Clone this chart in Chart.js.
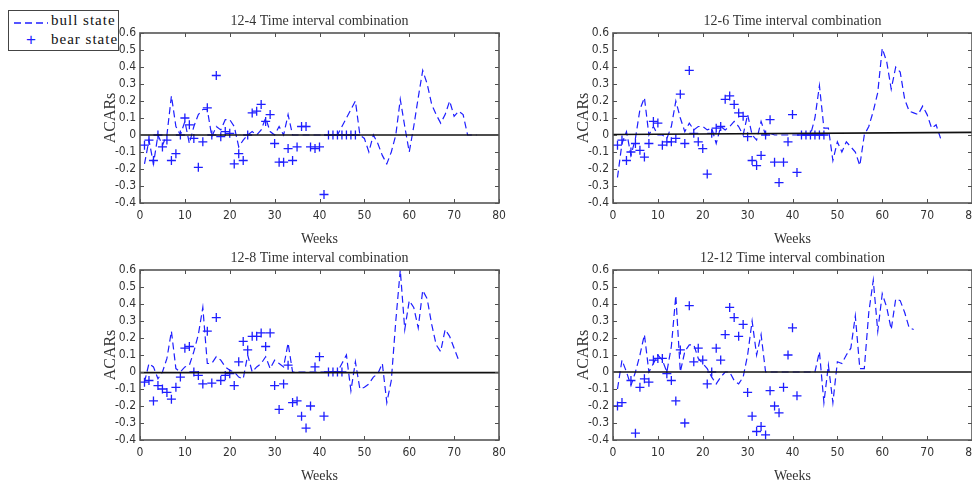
<!DOCTYPE html>
<html>
<head>
<meta charset="utf-8">
<script src="https://cdn.jsdelivr.net/npm/chart.js@4.4.0/dist/chart.umd.min.js"></script>
<style>
  html, body { margin: 0; padding: 0; background: #fff; overflow: hidden; width: 972px; height: 485px; }
  canvas { position: absolute; }
  #legend { position: absolute; left: 8px; top: 10px; width: 109px; height: 39px; border: 1.5px solid #444;
            background: #fff; z-index: 2; font: 15px 'Liberation Serif', serif; letter-spacing: 1px; color: #111;
            white-space: nowrap; }
  #legend span, #legend svg { position: absolute; }
</style>
</head>
<body>
<div id="legend">
  <svg style="left:5px;top:10px" width="34" height="4"><line x1="0" y1="2" x2="34" y2="2" stroke="rgb(30,30,255)" stroke-width="1.3" stroke-dasharray="7,4"/></svg>
  <span style="left:42px;top:1px">bull state</span>
  <span style="left:17px;top:19px;color:rgb(30,30,255);font:17px 'Liberation Sans',sans-serif">+</span>
  <span style="left:42px;top:20px">bear state</span>
</div>
<canvas id="c1" width="520" height="250" style="left:0;top:0"></canvas>
<canvas id="c2" width="520" height="250" style="left:473px;top:0"></canvas>
<canvas id="c3" width="520" height="250" style="left:0;top:237px"></canvas>
<canvas id="c4" width="520" height="250" style="left:473px;top:237px"></canvas>
<script>
// Data (weeks start at 1)
const trendWeeks = [0, 80];

const bull12_4 = [-0.17,-0.03,-0.17,0.0,-0.06,0.0,0.23,0.05,0.0,0.08,
  -0.05,0.05,0.12,0.15,0.15,-0.01,0.05,0.03,0.09,0.09,
  0.05,-0.07,-0.03,0.0,0.02,0.0,0.03,0.1,0.02,0.0,
  0.05,0.0,0.12,0.0,0.0,0.0,0.0,0.0,0.0,0.0,
  0.0,0.0,0.0,0.0,0.05,0.1,0.15,0.2,0.0,-0.02,
  -0.1,0.0,-0.05,-0.12,-0.17,-0.1,0.0,0.21,0.05,-0.1,
  0.05,0.22,0.38,0.3,0.18,0.12,0.07,0.12,0.2,0.11,
  0.14,0.12,0.0,0.0,0.0];
const bear12_4 = [-0.06,-0.03,-0.15,0.0,-0.07,-0.03,-0.15,-0.11,0.0,0.1,
  0.06,-0.02,-0.19,-0.04,0.16,0.0,0.35,-0.01,0.02,0.01,
  -0.17,-0.11,-0.15,0.0,0.13,0.14,0.18,0.08,0.12,-0.05,
  -0.16,-0.16,-0.08,-0.15,-0.07,0.05,0.05,-0.07,-0.08,-0.07,
  -0.35,0,0,0,0,0,0,0];
const trend12_4 = [0, 0];

const bull12_6 = [-0.25,-0.05,0.02,-0.12,-0.02,0.15,0.22,0.0,0.05,0.0,
  0.0,-0.02,0.05,0.2,0.1,0.02,0.07,0.03,0.05,0.05,
  0.03,0.04,-0.05,0.05,0.03,0.05,0.08,0.05,0.0,0.12,
  0.0,-0.03,0.08,0.0,0.01,0.0,0.0,0.0,0.0,0.0,
  0.0,0.0,0.0,0.0,0.1,0.29,0.04,0.04,-0.15,-0.04,
  -0.1,-0.04,-0.07,-0.1,-0.18,0.0,0.05,0.14,0.25,0.51,
  0.43,0.27,0.4,0.37,0.21,0.14,0.13,0.12,0.17,0.12,
  0.04,0.06,-0.02];
const bear12_6 = [-0.06,-0.03,-0.15,-0.1,-0.05,-0.09,-0.13,-0.05,0.08,0.07,
  -0.06,-0.04,-0.04,-0.02,0.24,-0.05,0.38,0.01,-0.04,-0.08,
  -0.23,0.01,0.04,0.05,0.21,0.23,0.18,0.13,0.11,-0.01,
  -0.15,-0.18,-0.12,0.0,0.09,-0.16,-0.28,-0.16,-0.04,0.12,
  -0.22,0,0,0,0,0,0];
const trend12_6 = [0.003, 0.015];

const bull12_8 = [-0.06,0.05,0.03,-0.04,0.0,0.08,0.24,0.02,0.0,0.03,
  0.04,0.12,0.22,0.38,0.05,0.05,0.09,0.07,0.03,0.01,
  0.0,-0.03,-0.04,0.1,0.0,0.03,0.05,0.09,0.02,0.07,
  0.05,0.03,0.17,0.0,0.0,0.0,0.0,0.0,0.0,0.0,
  0.0,0.0,0.0,0.0,0.05,0.1,-0.11,0.06,-0.1,-0.09,
  -0.07,-0.03,-0.01,0.05,-0.18,-0.05,0.3,0.6,0.25,0.42,
  0.38,0.26,0.48,0.43,0.28,0.16,0.12,0.25,0.21,0.14,
  0.07];
const bear12_8 = [-0.06,-0.05,-0.17,-0.08,-0.1,-0.12,-0.16,-0.09,-0.03,0.14,
  0.15,0.0,-0.02,-0.07,0.24,-0.065,0.32,-0.05,-0.02,-0.01,
  -0.08,0.06,0.18,0.13,0.21,0.21,0.23,0.15,0.23,-0.08,
  -0.22,-0.07,0.04,-0.18,-0.17,-0.26,-0.33,-0.2,0.03,0.09,
  -0.26,0,0,0,0];
const trend12_8 = [-0.004, -0.004];

const bull12_12 = [-0.1,0.07,0.0,-0.08,0.0,0.1,0.22,0.0,0.05,0.1,
  0.07,0.0,0.15,0.45,0.0,0.12,0.16,0.16,0.08,0.05,
  0.02,-0.03,-0.07,-0.03,0.0,0.0,-0.05,-0.07,-0.03,0.1,
  0.3,0.1,0.22,0.0,0.0,0.0,0.0,0.0,0.0,0.0,
  0.0,0.0,0.0,0.0,0.0,0.12,-0.18,0.04,-0.18,0.06,
  0.05,0.1,0.14,0.33,0.02,0.02,0.35,0.54,0.24,0.46,
  0.38,0.25,0.43,0.42,0.35,0.26,0.25];
const bear12_12 = [-0.2,-0.18,null,-0.05,-0.36,-0.09,-0.04,-0.06,0.07,0.08,
  0.08,-0.01,-0.05,-0.17,0.13,-0.3,0.39,0.06,0.14,0.07,
  -0.07,0.0,0.14,0.07,0.22,0.38,0.32,0.21,0.28,-0.12,
  -0.26,-0.35,-0.32,-0.37,-0.11,-0.2,-0.24,-0.09,0.1,0.26,
  -0.14];
const trend12_12 = [0, 0];

const xTicks = [0, 10, 20, 30, 40, 50, 60, 70, 80];
const yTicks = [-0.4, -0.3, -0.2, -0.1, 0, 0.1, 0.2, 0.3, 0.4, 0.5, 0.6];

const BLUE = "rgb(30,30,255)";
const tickFont = { family: "'Liberation Sans Narrow','DejaVu Sans Condensed','Liberation Sans',Arial,sans-serif", size: 12 };
const serif = "'Liberation Serif','Times New Roman',serif";

// frame with inward ticks on all four sides, plus the title over the plot box
const boxPlugin = {
  id: "box",
  afterDatasetsDraw(chart) {
    const { ctx, chartArea: a, scales: { x, y } } = chart;
    ctx.save();
    ctx.strokeStyle = "#505050";
    ctx.lineWidth = 1;
    ctx.beginPath();
    xTicks.forEach(v => {
      const px = Math.round(x.getPixelForValue(v)) + 0.5;
      ctx.moveTo(px, a.bottom); ctx.lineTo(px, a.bottom - 4);
      ctx.moveTo(px, a.top); ctx.lineTo(px, a.top + 4);
    });
    yTicks.forEach(v => {
      const py = Math.round(y.getPixelForValue(v)) + 0.5;
      ctx.moveTo(a.left, py); ctx.lineTo(a.left + 4, py);
      ctx.moveTo(a.right, py); ctx.lineTo(a.right - 4, py);
    });
    ctx.stroke();
    ctx.lineWidth = 1.6;
    ctx.strokeStyle = "#555";
    ctx.strokeRect(a.left, a.top, a.right - a.left, a.bottom - a.top);

    ctx.fillStyle = "#333";
    ctx.font = "14px " + serif;
    ctx.textAlign = "center";
    ctx.textBaseline = "middle";
    ctx.fillText(chart.options.plugins.box.title, (a.left + a.right) / 2, a.top - 12);
    ctx.restore();
  }
};

function pts(arr) {
  return arr.map((v, i) => ({ x: i + 1, y: v }));
}

function makeChart(id, title, bull, bear, trend) {
  new Chart(document.getElementById(id), {
    type: "line",
    data: {
      datasets: [
        { data: trendWeeks.map((w, i) => ({ x: w, y: trend[i] })), borderColor: "#111", borderWidth: 1.7, pointRadius: 0, order: 0 },
        { data: pts(bear), showLine: false, pointStyle: "cross", pointRadius: 4.5, pointBorderWidth: 1.3,
          pointBorderColor: BLUE, borderColor: BLUE, order: 1 },
        { data: pts(bull), borderColor: BLUE, borderWidth: 1.2, borderDash: [7, 4], pointRadius: 0, tension: 0, order: 2 }
      ]
    },
    options: {
      responsive: false,
      animation: false,
      layout: { autoPadding: false, padding: { left: 0, right: 21, top: 33, bottom: 2 } },
      plugins: {
        legend: { display: false },
        tooltip: { enabled: false },
        title: { display: false },
        box: { title: title }
      },
      scales: {
        x: {
          type: "linear", min: 0, max: 80,
          afterFit: s => { s.height = 45; s.paddingLeft = 0; s.paddingRight = 0; },
          afterBuildTicks: s => { s.ticks = xTicks.map(v => ({ value: v })); },
          grid: { display: false, drawTicks: false }, border: { display: false },
          ticks: { color: "#333", font: tickFont, padding: 6, autoSkip: false, maxRotation: 0, callback: v => String(v) },
          title: { display: true, text: "Weeks", color: "#333", font: { family: serif, size: 14 }, padding: { top: 0, bottom: 0 } }
        },
        y: {
          min: -0.4, max: 0.6,
          afterFit: s => { s.width = 140; s.paddingTop = 0; s.paddingBottom = 0; },
          afterBuildTicks: s => { s.ticks = yTicks.map(v => ({ value: v })); },
          grid: { display: false, drawTicks: false }, border: { display: false },
          ticks: { color: "#333", font: tickFont, padding: 4, autoSkip: false,
                   callback: v => (Math.abs(v) < 1e-9 ? "0" : String(Math.round(v * 10) / 10)) },
          title: { display: true, text: "ACARs", color: "#333", font: { family: serif, size: 16 }, padding: { top: 101, bottom: 0 } }
        }
      }
    },
    plugins: [boxPlugin]
  });
}

makeChart("c1", "12-4 Time interval combination", bull12_4, bear12_4, trend12_4);
makeChart("c2", "12-6 Time interval combination", bull12_6, bear12_6, trend12_6);
makeChart("c3", "12-8 Time interval combination", bull12_8, bear12_8, trend12_8);
makeChart("c4", "12-12 Time interval combination", bull12_12, bear12_12, trend12_12);
</script>
</body>
</html>
